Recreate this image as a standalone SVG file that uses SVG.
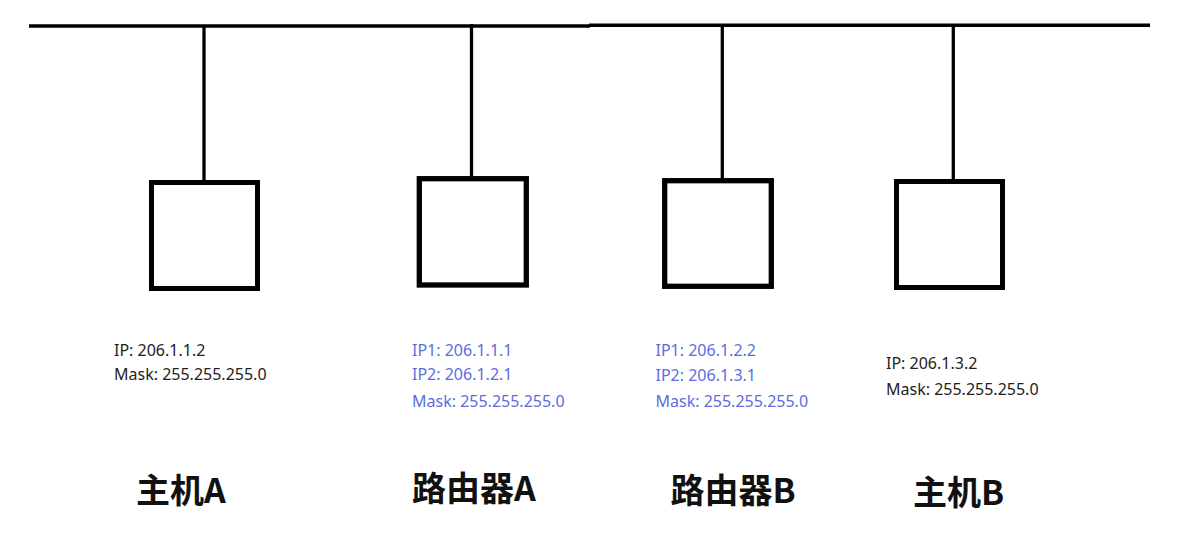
<svg xmlns="http://www.w3.org/2000/svg" width="1185" height="544" viewBox="0 0 1185 544">
<style>
.bus{stroke:#000;stroke-width:3.4;fill:none}
.drop{stroke:#000;stroke-width:3.3;fill:none}
.box{fill:#fff;stroke:#000;stroke-width:5}
.info{font-family:"Noto Sans","Liberation Sans",sans-serif;font-size:16px;fill:#222}
.blue{fill:#5b6ee0}
.name{font-family:"Noto Sans CJK SC","Noto Sans",sans-serif;font-size:34px;font-weight:bold;fill:#111}
</style>
<rect width="1185" height="544" fill="#fff"/>
<g id="connectors">
<line class="bus" x1="29" y1="26" x2="590" y2="26"/>
<line class="bus" x1="589" y1="25.2" x2="1150" y2="25.2"/>
<line class="drop" x1="204" y1="26" x2="204" y2="181"/>
<line class="drop" x1="471.5" y1="24" x2="471.5" y2="177"/>
<line class="drop" x1="722.3" y1="25" x2="722.3" y2="179"/>
<line class="drop" x1="953.3" y1="25" x2="953.3" y2="180"/>
</g>
<g id="hostA">
<rect class="box" x="151.5" y="182.5" width="106" height="106"/>
<text class="info" x="114" y="356">IP: 206.1.1.2</text>
<text class="info" x="114" y="380">Mask: 255.255.255.0</text>
<text class="name" x="136" y="503">主机A</text>
</g>
<g id="routerA">
<rect class="box" x="419.3" y="178.7" width="107" height="106.3" style="stroke-width:5.3"/>
<text class="info blue" x="412" y="356">IP1: 206.1.1.1</text>
<text class="info blue" x="412" y="380">IP2: 206.1.2.1</text>
<text class="info blue" x="412" y="407">Mask: 255.255.255.0</text>
<text class="name" x="412" y="501">路由器A</text>
</g>
<g id="routerB">
<rect class="box" x="664.7" y="180.7" width="106.6" height="105.6" style="stroke-width:5.3"/>
<text class="info blue" x="655.5" y="356">IP1: 206.1.2.2</text>
<text class="info blue" x="655.5" y="380.5">IP2: 206.1.3.1</text>
<text class="info blue" x="655.5" y="407">Mask: 255.255.255.0</text>
<text class="name" x="670.5" y="502.5">路由器B</text>
</g>
<g id="hostB">
<rect class="box" x="896.5" y="181.5" width="106" height="106"/>
<text class="info" x="886" y="369">IP: 206.1.3.2</text>
<text class="info" x="886" y="395">Mask: 255.255.255.0</text>
<text class="name" x="913" y="505">主机B</text>
</g>
</svg>
